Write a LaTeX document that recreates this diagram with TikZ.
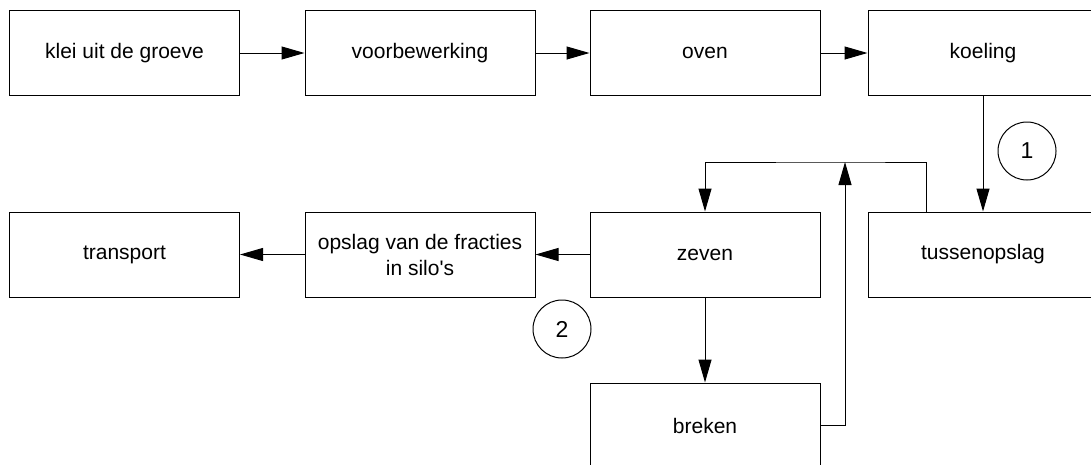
\documentclass[tikz,border=0pt]{standalone}
\usepackage{fontspec}
\setmainfont{Liberation Sans}[Ligatures=TeXOff]
\usetikzlibrary{arrows.meta}
\tikzset{
  box/.style={draw, line width=1pt, rectangle, minimum width=230pt, minimum height=85pt, inner sep=0pt, align=center, font=\fontsize{21}{26}\selectfont},
  mark circ/.style={draw, line width=1pt, circle, minimum size=58pt, inner sep=0pt, font=\fontsize{23}{26}\selectfont},
  arr/.style={line width=1pt, -{Triangle[length=23pt,width=13pt]}},
  ln/.style={line width=1pt}
}
\begin{document}
\begin{tikzpicture}[x=1pt,y=-1pt]
\useasboundingbox (0,0) rectangle (1091,464);
\node[box] (klei) at (124.5,53) {klei uit de groeve};
\node[box] (voor) at (420,53) {voorbewerking};
\node[box] (oven) at (705,53) {oven};
\node[box] (koel) at (983,53) {koeling};
\node[box] (trans) at (124.5,254.5) {transport};
\node[box] (ops) at (420,254.5) {opslag van de fracties\\in silo's};
\node[box] (zev) at (705,254.5) {zeven};
\node[box] (tus) at (983,254.5) {tussenopslag};
\node[box] (bre) at (705,425.5) {breken};
\node[mark circ] (c1) at (1027,151) {1};
\node[mark circ] (c2) at (562,329) {2};
\coordinate (junc) at (845,162);
\draw[arr] (klei.east) -- (voor.west);
\draw[arr] (voor.east) -- (oven.west);
\draw[arr] (oven.east) -- (koel.west);
\draw[arr] (koel.south) -- (tus.north);
\draw[arr] ([xshift=-57pt]tus.north) |- (junc) -| (zev.north);
\draw[arr] (bre.east) -| (junc);
\draw[arr] (zev.south) -- (bre.north);
\draw[arr] (zev.west) -- (ops.east);
\draw[arr] (ops.west) -- (trans.east);
\end{tikzpicture}
\end{document}
